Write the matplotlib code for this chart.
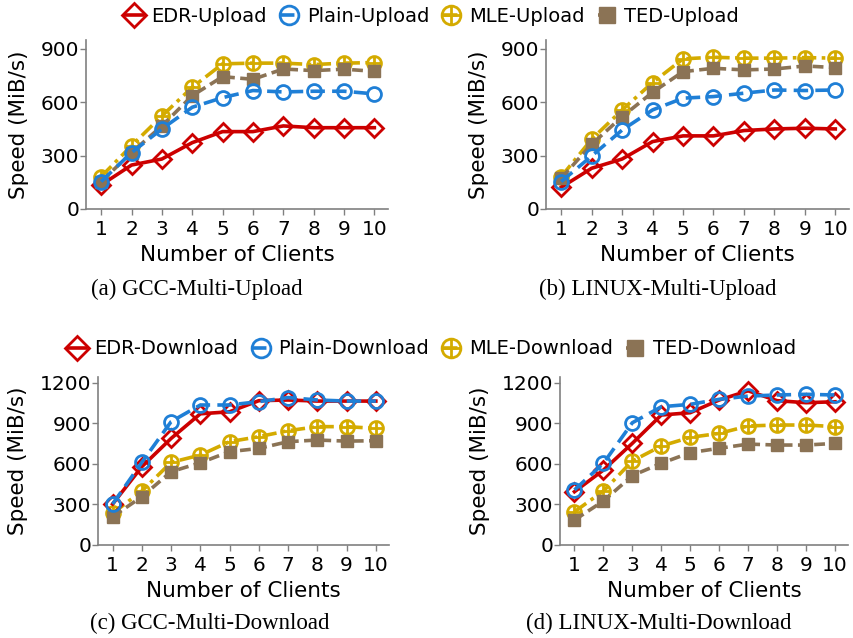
import numpy as np
import matplotlib
matplotlib.use("Agg")
import matplotlib.pyplot as plt
from matplotlib.path import Path

clients = list(range(1, 11))

# upload throughput (MiB/s)
gcc_up_edr = [135, 247, 281, 373, 435, 435, 467, 457, 457, 457]
gcc_up_plain = [154, 317, 450, 572, 626, 666, 658, 662, 662, 647]
gcc_up_mle = [182, 356, 523, 684, 816, 820, 820, 812, 820, 823]
gcc_up_ted = [154, 317, 467, 637, 744, 729, 787, 778, 786, 774]

linux_up_edr = [122, 229, 281, 379, 411, 411, 441, 450, 454, 450]
linux_up_plain = [154, 298, 444, 557, 623, 632, 651, 669, 666, 669]
linux_up_mle = [182, 392, 557, 711, 844, 853, 848, 848, 851, 848]
linux_up_ted = [173, 364, 519, 656, 772, 791, 782, 787, 804, 795]

# download throughput (MiB/s)
gcc_down_edr = [303, 579, 788, 970, 985, 1067, 1072, 1064, 1064, 1064]
gcc_down_plain = [303, 611, 912, 1035, 1035, 1060, 1090, 1072, 1064, 1064]
gcc_down_mle = [234, 399, 611, 665, 764, 801, 845, 875, 875, 862]
gcc_down_ted = [209, 357, 542, 608, 690, 714, 764, 776, 768, 771]

linux_down_edr = [394, 554, 752, 961, 978, 1072, 1140, 1067, 1052, 1059]
linux_down_plain = [407, 604, 904, 1022, 1040, 1077, 1101, 1109, 1114, 1109]
linux_down_mle = [246, 399, 621, 732, 796, 825, 880, 887, 887, 875]
linux_down_ted = [185, 325, 513, 604, 683, 715, 746, 739, 739, 751]

up_ticks = [0, 300, 600, 900]
down_ticks = [0, 300, 600, 900, 1200]

RED = "#cc0000"
BLUE = "#1f7fd6"
GOLD = "#d4ab00"
BROWN = "#8b7355"

# circle with a cross inside
oplus = Path.make_compound_path(
    Path.unit_circle(),
    Path([[-1, 0], [1, 0], [0, -1], [0, 1]],
         [Path.MOVETO, Path.LINETO, Path.MOVETO, Path.LINETO]))

plt.rcParams['font.family'] = ['DejaVu Sans']

fig = plt.figure(figsize=(8.54, 6.38), dpi=100)

W, H = 854.0, 638.0


def make_axes(left, right, top, bottom):
    return fig.add_axes([left / W, 1 - bottom / H, (right - left) / W, (bottom - top) / H])


def draw(ax, edr, plain, mle, ted, kind, yticks, ymax):
    lw = 2.6
    ax.plot(clients, edr, color=RED, lw=lw, ls='-', marker='D', markersize=9,
            markerfacecolor='none', markeredgewidth=2, label=f'EDR-{kind}', zorder=3)
    ax.plot(clients, mle, color=GOLD, lw=lw, ls=(0, (4, 1.5, 1, 1.5)), marker=oplus,
            markersize=10, markerfacecolor='none', markeredgewidth=2,
            label=f'MLE-{kind}', zorder=2)
    ax.plot(clients, ted, color=BROWN, lw=lw, ls=(0, (3, 1.5)), marker='s', markersize=9,
            markerfacecolor=BROWN, markeredgewidth=1, label=f'TED-{kind}', zorder=3)
    ax.plot(clients, plain, color=BLUE, lw=lw, ls=(0, (4, 2)), marker='o', markersize=10,
            markerfacecolor='none', markeredgewidth=2, label=f'Plain-{kind}', zorder=4)

    ax.set_xlim(0.5, 10.45)
    ax.set_ylim(0, ymax)
    ax.set_xticks(clients)
    ax.set_yticks(yticks)
    ax.tick_params(axis='both', labelsize=14.5, length=4, width=1, color='#808080')
    ax.tick_params(axis='y', pad=1)
    ax.tick_params(axis='x', pad=4)
    for s in ['top', 'right']:
        ax.spines[s].set_visible(False)
    for s in ['left', 'bottom']:
        ax.spines[s].set_color('#808080')
        ax.spines[s].set_linewidth(1.2)
    ax.set_xlabel('Number of Clients', fontsize=15.5, labelpad=4)
    ax.set_ylabel('Speed (MiB/s)', fontsize=15.5, labelpad=8)


ax_a = make_axes(86, 388, 40, 209)
ax_b = make_axes(546, 849, 40, 209)
ax_c = make_axes(98, 389, 377, 545)
ax_d = make_axes(560, 848, 377, 545)

draw(ax_a, gcc_up_edr, gcc_up_plain, gcc_up_mle, gcc_up_ted, 'Upload', up_ticks, 950)
draw(ax_b, linux_up_edr, linux_up_plain, linux_up_mle, linux_up_ted, 'Upload', up_ticks, 950)
draw(ax_c, gcc_down_edr, gcc_down_plain, gcc_down_mle, gcc_down_ted, 'Download', down_ticks, 1242)
draw(ax_d, linux_down_edr, linux_down_plain, linux_down_mle, linux_down_ted, 'Download', down_ticks, 1242)

# legends in the order EDR, Plain, MLE, TED
for ax, ycen in [(ax_a, 16), (ax_c, 349)]:
    h, l = ax.get_legend_handles_labels()
    order = [0, 3, 1, 2]
    fig.legend([h[i] for i in order], [l[i] for i in order], loc='center',
               bbox_to_anchor=(432 / W, 1 - ycen / H), ncol=4, frameon=False,
               fontsize=14, handlelength=0.9, handletextpad=0.45, columnspacing=0.7,
               markerscale=1.35, borderpad=0)

captions = [("(a) GCC-Multi-Upload", 197, 289),
            ("(b) LINUX-Multi-Upload", 658, 289),
            ("(c) GCC-Multi-Download", 210, 623),
            ("(d) LINUX-Multi-Download", 659, 623)]
for txt, cx, cy in captions:
    fig.text(cx / W, 1 - cy / H, txt, ha='center', va='center', fontsize=16.5,
             family='Liberation Serif')

fig.savefig('out.png', dpi=100)
